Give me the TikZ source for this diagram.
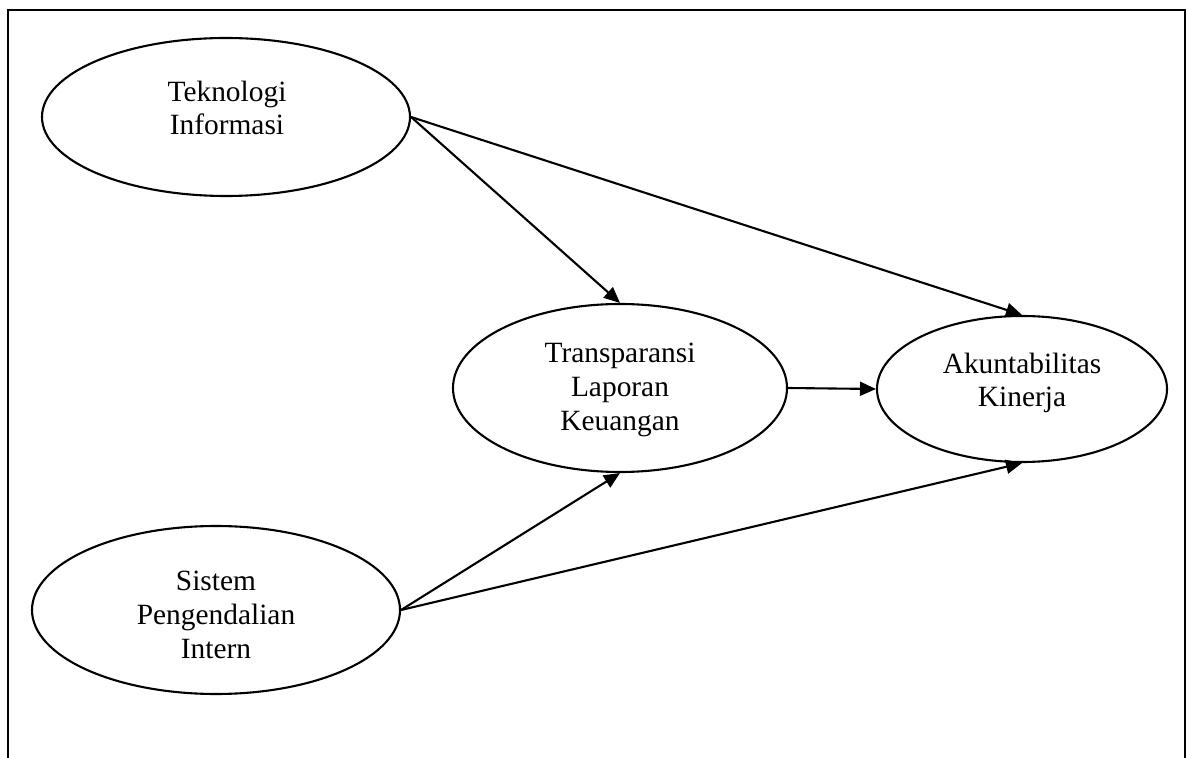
\documentclass[tikz,border=0pt]{standalone}
\usepackage{fontspec}
\setmainfont{Liberation Serif}
\usetikzlibrary{shapes.geometric,arrows.meta}

\begin{document}
\begin{tikzpicture}[x=0.5pt,y=-0.5pt,
  var/.style={draw,ellipse,line width=1.05pt,inner sep=0pt},
  vartext/.style={align=center,inner sep=0pt,font=\fontsize{14.7}{16.8}\selectfont},
  link/.style={line width=1.05pt,-{Triangle[length=8pt,width=7pt]}},
  frame/.style={line width=1.1pt}]
  \useasboundingbox (0,0) rectangle (1188,758);

  % open frame (no bottom edge)
  \draw[frame] (8,758) -- (8,10) -- (1185,10) -- (1185,758);

  % latent variables
  \node[var,minimum width=184pt,minimum height=79pt] (ti)  at (226,117) {};
  \node[var,minimum width=167pt,minimum height=84pt] (tlk) at (620,388) {};
  \node[var,minimum width=145pt,minimum height=73pt] (ak)  at (1022,389) {};
  \node[var,minimum width=184pt,minimum height=84pt] (spi) at (216,610) {};

  % labels
  \node[vartext] (ti-t)  at (227,108) {Teknologi\\Informasi};
  \node[vartext] (tlk-t) at (620,390) {Transparansi\\Laporan\\Keuangan};
  \node[vartext] (ak-t)  at (1022,383) {Akuntabilitas\\Kinerja};
  \node[vartext] (spi-t) at (216,615) {Sistem\\Pengendalian\\Intern};

  % paths
  \draw[link] (ti.east) -- (tlk.north);
  \draw[link] (ti.east) -- (ak.north);
  \draw[link] (tlk.east) -- (ak.west);
  \draw[link] (spi.east) -- (tlk.south);
  \draw[link] (spi.east) -- (ak.south);
\end{tikzpicture}
\end{document}
